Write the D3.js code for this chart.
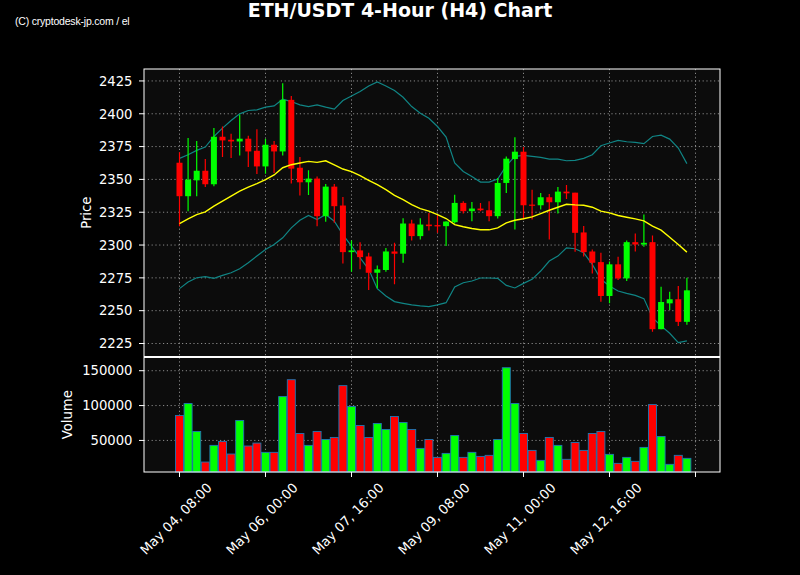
<!DOCTYPE html>
<html>
<head>
<meta charset="utf-8">
<script src="https://cdn.jsdelivr.net/npm/d3@7/dist/d3.min.js"></script>
<style>
  html, body { margin: 0; padding: 0; background: #000; }
  svg { display: block; }
  text { font-family: "DejaVu Sans", sans-serif; fill: #fff; }
</style>
</head>
<body>
<svg id="chart" width="800" height="575"></svg>
<script>
// ---- Data ----
const opens  = [2362.7,2337.2,2349.3,2356.6,2346.3,2382.5,2380.2,2378.9,2381.0,2371.8,
                2359.9,2376.4,2371.3,2410.6,2358.9,2347.8,2350.6,2322.0,2344.5,2330.1,
                2294.6,2295.9,2291.3,2278.9,2281.0,2295.1,2293.4,2316.4,2306.8,2315.6,
                2315.2,2314.4,2317.4,2332.1,2325.8,2327.8,2326.5,2322.0,2347.3,2365.5,
                2371.1,2330.8,2330.3,2336.4,2332.6,2340.7,2339.9,2309.6,2295.1,2287.0,
                2261.2,2285.3,2274.6,2302.2,2300.4,2302.2,2235.9,2255.6,2258.7,2241.5];
const highs  = [2370.6,2381.5,2379.2,2365.5,2389.1,2390.3,2384.7,2399.2,2383.2,2388.3,
                2381.0,2379.2,2423.2,2413.6,2367.0,2356.9,2352.3,2346.5,2346.5,2336.6,
                2303.5,2302.2,2294.1,2284.5,2297.7,2301.7,2320.4,2319.2,2320.4,2324.5,
                2323.2,2318.2,2338.4,2333.4,2332.8,2332.1,2333.4,2351.1,2367.5,2382.2,
                2374.6,2342.2,2339.7,2338.9,2344.2,2345.8,2339.9,2314.6,2296.6,2294.1,
                2287.5,2291.1,2303.5,2308.8,2323.2,2307.3,2268.3,2264.5,2268.8,2275.1];
const lows   = [2314.4,2325.8,2337.2,2344.2,2344.7,2367.0,2366.3,2368.3,2359.4,2354.1,
                2354.4,2354.9,2368.3,2346.8,2337.7,2338.2,2314.4,2317.7,2316.9,2286.0,
                2279.7,2281.5,2265.8,2267.0,2279.7,2270.1,2286.5,2303.5,2304.2,2311.1,
                2309.3,2299.2,2316.4,2324.0,2318.2,2325.8,2318.2,2320.2,2339.7,2311.8,
                2319.4,2319.4,2327.0,2304.2,2324.0,2335.1,2294.9,2291.3,2278.4,2256.9,
                2255.6,2273.4,2272.6,2295.1,2298.7,2233.9,2235.9,2250.6,2238.4,2239.2];
const closes = [2337.2,2349.8,2356.6,2346.3,2382.5,2379.7,2378.9,2381.0,2371.3,2359.9,
                2376.4,2371.3,2410.6,2358.2,2347.8,2350.6,2322.0,2344.5,2329.6,2294.6,
                2295.9,2290.8,2278.9,2281.5,2295.1,2293.4,2316.4,2306.8,2315.6,2314.4,
                2314.2,2317.9,2332.1,2325.8,2327.8,2326.5,2322.0,2347.3,2365.8,2371.1,
                2330.3,2330.3,2336.4,2332.6,2340.7,2339.4,2309.3,2294.6,2286.5,2261.2,
                2285.3,2274.6,2302.2,2300.4,2301.7,2235.9,2256.6,2258.7,2241.5,2265.5];
const volumes = [85700,102900,62900,19000,42900,48600,30500,78600,42000,46200,
                 32900,32900,112900,137100,60000,42900,62900,51400,54300,128600,
                 98600,71400,54300,74300,65700,84300,75700,65700,38600,51400,
                 25700,31400,57100,25700,32900,27100,28600,51400,154300,102900,
                 60000,35700,21400,54300,42900,22900,47100,35700,60000,62900,
                 30000,17100,25700,20000,40000,101400,55700,15700,28600,24300];
const maMid = [2316.4,2319.9,2323.2,2325.3,2329.6,2333.4,2337.2,2341.0,2344.2,2346.8,
               2349.8,2353.4,2358.9,2361.2,2362.5,2363.7,2363.0,2364.2,2361.0,2357.9,
               2355.9,2352.8,2349.3,2346.0,2342.2,2337.9,2334.6,2330.8,2327.8,2325.8,
               2323.2,2320.2,2315.6,2313.9,2312.6,2311.6,2311.6,2313.1,2316.9,2318.9,
               2320.0,2321.5,2324.0,2326.5,2328.8,2331.1,2330.6,2330.3,2328.8,2325.8,
               2324.5,2322.5,2321.2,2319.9,2318.4,2314.4,2311.3,2306.0,2300.4,2294.6];
const bandUpper = [2366.0,2368.8,2372.1,2374.6,2382.7,2389.1,2394.9,2399.9,2402.5,2403.0,
                   2405.0,2406.0,2411.1,2409.3,2406.8,2405.5,2406.8,2405.0,2403.5,2410.1,
                   2413.6,2416.9,2421.2,2424.2,2421.2,2417.7,2412.6,2405.5,2400.4,2396.6,
                   2390.3,2382.2,2362.5,2356.1,2352.3,2348.0,2348.0,2350.3,2360.4,2367.5,
                   2368.3,2367.5,2366.8,2365.5,2365.5,2364.2,2364.5,2366.0,2368.8,2375.6,
                   2377.7,2379.7,2378.7,2378.2,2377.2,2382.7,2383.7,2380.7,2373.9,2362.0];
const bandLower = [2266.8,2271.8,2275.1,2275.9,2274.6,2276.9,2278.9,2281.9,2286.5,2291.6,
                   2296.6,2300.4,2305.5,2313.1,2318.9,2322.5,2319.4,2323.2,2318.2,2308.0,
                   2299.2,2290.3,2281.5,2266.8,2261.2,2256.9,2255.6,2254.4,2253.6,2253.1,
                   2254.4,2256.1,2268.0,2271.3,2272.6,2274.9,2274.9,2274.6,2269.3,2267.3,
                   2270.8,2273.9,2280.2,2287.8,2291.6,2297.9,2297.2,2294.1,2285.3,2273.9,
                   2268.8,2265.0,2263.2,2261.7,2259.2,2244.7,2238.4,2232.8,2225.7,2227.0];
const xTickIndex  = [0, 10, 20, 30, 40, 50, 60];
const xTickLabels = ["May 04, 08:00","May 06, 00:00","May 07, 16:00","May 09, 08:00","May 11, 00:00","May 12, 16:00",""];
const priceTicks  = [2225, 2250, 2275, 2300, 2325, 2350, 2375, 2400, 2425];
const volumeTicks = [50000, 100000, 150000];

// ---- Layout ----
const L = 144, R = 720;
const pTop = 69, pBot = 356.5, vTop = 357.5, vBot = 472;
const UP = "#00ff00", DOWN = "#ff0000";

const svg = d3.select("#chart");
const n = closes.length;
const idx = d3.range(n);

const x = d3.scaleLinear().domain([-4.128, 62.85]).range([L, R]);
const yP = d3.scaleLinear().domain([2215.1, 2434.1]).range([pBot, pTop]);
const yV = d3.scaleLinear().domain([d3.min(volumes) * 0.3, d3.max(volumes) * 1.095]).range([vBot, vTop]);

// panels background
svg.append("rect").attr("x", L).attr("y", pTop).attr("width", R - L).attr("height", pBot - pTop).attr("fill", "#0c0c0c");
svg.append("rect").attr("x", L).attr("y", vTop).attr("width", R - L).attr("height", vBot - vTop).attr("fill", "#0c0c0c");

const gridStyle = g => g.attr("stroke", "#a0a0a0").attr("stroke-width", 1).attr("stroke-dasharray", "1.2,2.6").attr("opacity", 0.85);

// grids price
const gp = svg.append("g");
gp.selectAll("line.h").data(priceTicks).join("line")
  .attr("x1", L).attr("x2", R).attr("y1", d => yP(d)).attr("y2", d => yP(d)).call(gridStyle);
gp.selectAll("line.v").data(xTickIndex).join("line")
  .attr("x1", d => x(d)).attr("x2", d => x(d)).attr("y1", pTop).attr("y2", pBot).call(gridStyle);
// grids volume
const gv = svg.append("g");
gv.selectAll("line.h").data(volumeTicks).join("line")
  .attr("x1", L).attr("x2", R).attr("y1", d => yV(d)).attr("y2", d => yV(d)).call(gridStyle);
gv.selectAll("line.v").data(xTickIndex).join("line")
  .attr("x1", d => x(d)).attr("x2", d => x(d)).attr("y1", vTop).attr("y2", vBot).call(gridStyle);

// clip for price
svg.append("clipPath").attr("id", "pclip").append("rect").attr("x", L).attr("y", pTop).attr("width", R - L).attr("height", pBot - pTop);

// bands & MA
const line = arr => d3.line().x((d, i) => x(i)).y(d => yP(d))(arr);
const pg = svg.append("g").attr("clip-path", "url(#pclip)");
pg.append("path").attr("d", line(bandUpper)).attr("fill", "none").attr("stroke", "#108585").attr("stroke-width", 1.2);
pg.append("path").attr("d", line(bandLower)).attr("fill", "none").attr("stroke", "#108585").attr("stroke-width", 1.2);

// candles
const cg = pg.append("g");
const bodyW = 6;
idx.forEach(i => {
  const up = closes[i] >= opens[i];
  const col = up ? UP : DOWN;
  cg.append("line").attr("x1", x(i)).attr("x2", x(i))
    .attr("y1", yP(highs[i])).attr("y2", yP(lows[i]))
    .attr("stroke", col).attr("stroke-width", 1.2);
  const yt = yP(Math.max(opens[i], closes[i]));
  const yb = yP(Math.min(opens[i], closes[i]));
  cg.append("rect").attr("x", x(i) - bodyW / 2).attr("y", yt)
    .attr("width", bodyW).attr("height", Math.max(1.2, yb - yt)).attr("fill", col);
});
pg.append("path").attr("d", line(maMid)).attr("fill", "none").attr("stroke", "#ffff00").attr("stroke-width", 1.4);

// volume bars
const vg = svg.append("g");
const barW = 8;
idx.forEach(i => {
  const up = closes[i] >= opens[i];
  vg.append("rect").attr("x", x(i) - barW / 2).attr("y", yV(volumes[i]))
    .attr("width", barW).attr("height", vBot - yV(volumes[i]))
    .attr("fill", up ? UP : DOWN).attr("stroke", "#1f77b4").attr("stroke-width", 0.9);
});

// spines
svg.append("rect").attr("x", L).attr("y", pTop).attr("width", R - L).attr("height", pBot - pTop)
  .attr("fill", "none").attr("stroke", "#fff").attr("stroke-width", 1);
svg.append("rect").attr("x", L).attr("y", vTop).attr("width", R - L).attr("height", vBot - vTop)
  .attr("fill", "none").attr("stroke", "#fff").attr("stroke-width", 1);

// y ticks price
const fs = 13.2;
priceTicks.forEach(t => {
  svg.append("line").attr("x1", L - 5).attr("x2", L).attr("y1", yP(t)).attr("y2", yP(t)).attr("stroke", "#fff");
  svg.append("text").attr("x", L - 11.5).attr("y", yP(t)).attr("dy", "0.36em")
    .attr("text-anchor", "end").attr("font-size", fs).text(t);
});
volumeTicks.forEach(t => {
  svg.append("line").attr("x1", L - 5).attr("x2", L).attr("y1", yV(t)).attr("y2", yV(t)).attr("stroke", "#fff");
  svg.append("text").attr("x", L - 11.5).attr("y", yV(t)).attr("dy", "0.36em")
    .attr("text-anchor", "end").attr("font-size", fs).text(t);
});
// x ticks
xTickIndex.forEach((t, k) => {
  svg.append("line").attr("x1", x(t)).attr("x2", x(t)).attr("y1", vBot).attr("y2", vBot + 5).attr("stroke", "#fff");
  if (xTickLabels[k]) {
    const tx = svg.append("text").attr("font-size", fs).attr("text-anchor", "middle")
      .attr("dominant-baseline", "central").text(xTickLabels[k]);
    const len = tx.node().getComputedTextLength();
    const h = fs * 0.95;
    const bb = (len + h) * Math.SQRT1_2;
    tx.attr("transform", `translate(${x(t) - 3.5},${481 + bb / 2}) rotate(-45)`);
  }
});

// axis labels
svg.append("text").attr("transform", `translate(91,${(pTop + pBot) / 2}) rotate(-90)`)
  .attr("text-anchor", "middle").attr("font-size", fs).text("Price");
svg.append("text").attr("transform", `translate(72,${(vTop + vBot) / 2}) rotate(-90)`)
  .attr("text-anchor", "middle").attr("font-size", fs).text("Volume");

// title & watermark
svg.append("text").attr("x", 400).attr("y", 17).attr("text-anchor", "middle")
  .attr("font-size", 19).attr("font-weight", "bold").text("ETH/USDT 4-Hour (H4) Chart");
svg.append("text").attr("x", 15).attr("y", 24.5)
  .style("font-family", "'Liberation Sans', Arial, sans-serif")
  .attr("font-size", 10.5).attr("letter-spacing", -0.2).text("(C) cryptodesk-jp.com / el");
</script>
</body>
</html>
